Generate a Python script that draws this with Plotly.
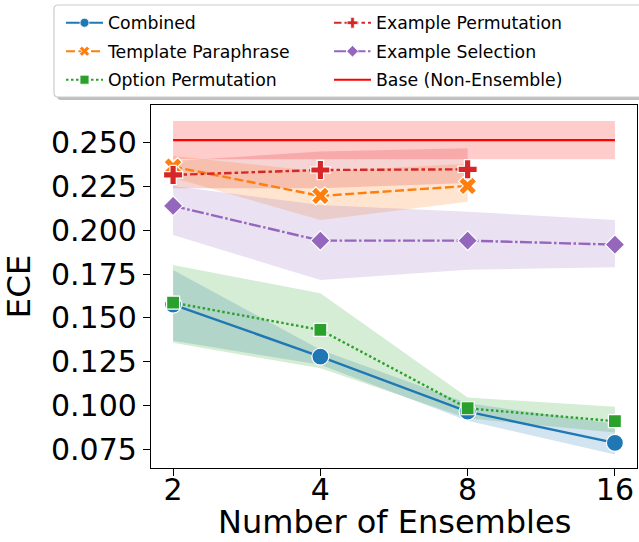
import plotly.graph_objects as go

# Ensemble sizes on the x axis (categorical positions 0..3)
ensemble_sizes = ["2", "4", "8", "16"]

# ECE per method: mean and confidence band
combined_mean = [0.1576, 0.1279, 0.0965, 0.0786]
combined_lo = [0.1370, 0.1232, 0.0912, 0.0720]
combined_hi = [0.1773, 0.1318, 0.1012, 0.0895]

template_mean = [0.2363, 0.2196, 0.2253]
template_lo = [0.2300, 0.2059, 0.2163]
template_hi = [0.2424, 0.2335, 0.2380]

option_mean = [0.1587, 0.1431, 0.0984, 0.0910]
option_lo = [0.1358, 0.1212, 0.0927, 0.0845]
option_hi = [0.1802, 0.1640, 0.1045, 0.0993]

experm_mean = [0.2316, 0.2344, 0.2348]
experm_lo = [0.2240, 0.2240, 0.2270]
experm_hi = [0.2396, 0.2449, 0.2468]

exsel_mean = [0.2139, 0.1941, 0.1941, 0.1918]
exsel_lo = [0.1973, 0.1716, 0.1775, 0.1789]
exsel_hi = [0.2252, 0.2144, 0.2106, 0.2059]

base_mean = 0.2515
base_lo = 0.2406
base_hi = 0.2623

y_ticks = [0.075, 0.100, 0.125, 0.150, 0.175, 0.200, 0.225, 0.250]

FONT = "DejaVu Sans"
W, H = 639, 542
ML, MR, MT, MB = 151, 2, 105, 74
PW, PH = W - ML - MR, H - MT - MB


def rgba(hex_color, a):
    h = hex_color.lstrip("#")
    r, g, b = int(h[0:2], 16), int(h[2:4], 16), int(h[4:6], 16)
    return f"rgba({r},{g},{b},{a})"


series = [
    # name, color, mean, lo, hi, dash, symbol, size, legend
    ("Combined", "#1f77b4", combined_mean, combined_lo, combined_hi, "solid", "circle", 17, "legend"),
    ("Template Paraphrase", "#ff7f0e", template_mean, template_lo, template_hi, "9px,3.5px", "x", 16, "legend"),
    ("Option Permutation", "#2ca02c", option_mean, option_lo, option_hi, "2.5px,2.5px", "square", 13, "legend"),
    ("Example Permutation", "#d62728", experm_mean, experm_lo, experm_hi, "7.5px,3px,3.5px,3px", "cross", 16, "legend2"),
    ("Example Selection", "#9467bd", exsel_mean, exsel_lo, exsel_hi, "12px,2.5px,2.5px,2.5px", "diamond", 15, "legend2"),
]

fig = go.Figure()

# confidence bands
for name, color, mean, lo, hi, dash, sym, size, leg in series:
    xs = list(range(len(mean)))
    fig.add_trace(go.Scatter(
        x=xs + xs[::-1], y=list(hi) + list(lo)[::-1],
        fill="toself", fillcolor=rgba(color, 0.2), mode="lines",
        line=dict(width=0), hoverinfo="skip", showlegend=False,
    ))

base_x = list(range(len(ensemble_sizes)))
fig.add_trace(go.Scatter(
    x=base_x + base_x[::-1], y=[base_hi] * 4 + [base_lo] * 4,
    fill="toself", fillcolor="rgba(255,0,0,0.2)", mode="lines",
    line=dict(width=0), hoverinfo="skip", showlegend=False,
))

# mean lines with markers
for name, color, mean, lo, hi, dash, sym, size, leg in series:
    fig.add_trace(go.Scatter(
        x=list(range(len(mean))), y=mean, mode="lines+markers", name=name,
        line=dict(color=color, width=2.4, dash=dash),
        marker=dict(symbol=sym, size=size, color=color, line=dict(color="white", width=1.2)),
        showlegend=False,
    ))

fig.add_trace(go.Scatter(
    x=[base_x[0], base_x[-1]], y=[base_mean, base_mean], mode="lines",
    line=dict(color="#ff0000", width=2.2), showlegend=False,
))

# legend entries
for i, (name, color, mean, lo, hi, dash, sym, size, leg) in enumerate(series):
    fig.add_trace(go.Scatter(
        x=[None], y=[None], mode="lines+markers", name=name, legend=leg,
        legendgroup=name,
        line=dict(color=color, width=2, dash=dash),
        marker=dict(symbol=sym, size=9, color=color, line=dict(color="white", width=0.8)),
    ))
fig.add_trace(go.Scatter(
    x=[None], y=[None], mode="lines", name="Base (Non-Ensemble)", legend="legend2",
    legendgroup="base", line=dict(color="#ff0000", width=2),
))


def px_x(p):
    return (p - ML) / PW


def px_y(p):
    return (H - MB - p) / PH


def rounded_rect(x0, y0, x1, y1, r):
    pts = [
        f"M{px_x(x0 + r)},{px_y(y0)}",
        f"L{px_x(x1 - r)},{px_y(y0)}",
        f"Q{px_x(x1)},{px_y(y0)} {px_x(x1)},{px_y(y0 + r)}",
        f"L{px_x(x1)},{px_y(y1 - r)}",
        f"Q{px_x(x1)},{px_y(y1)} {px_x(x1 - r)},{px_y(y1)}",
        f"L{px_x(x0 + r)},{px_y(y1)}",
        f"Q{px_x(x0)},{px_y(y1)} {px_x(x0)},{px_y(y1 - r)}",
        f"L{px_x(x0)},{px_y(y0 + r)}",
        f"Q{px_x(x0)},{px_y(y0)} {px_x(x0 + r)},{px_y(y0)}",
        "Z",
    ]
    return " ".join(pts)


# legend frame with drop shadow
fig.add_shape(type="path", xref="paper", yref="paper",
              path=rounded_rect(57, 8, 650, 100, 4),
              fillcolor="rgba(128,128,128,0.5)", line=dict(width=0), layer="above")
fig.add_shape(type="path", xref="paper", yref="paper",
              path=rounded_rect(54, 5, 647, 97, 4),
              fillcolor="white", line=dict(color="#cccccc", width=1.2), layer="above")

# x-axis title, resting on the bottom edge of the figure
fig.add_annotation(
    text="Number of Ensembles", xref="paper", yref="paper", x=0.5, y=0,
    xanchor="center", yanchor="bottom", yshift=-MB, borderpad=0, showarrow=False,
    font=dict(family=FONT, size=32, color="black"),
)

axis_common = dict(
    showline=True, linecolor="black", linewidth=1.3, mirror=True,
    ticks="outside", ticklen=7, tickwidth=1.3, tickcolor="black",
    showgrid=False, zeroline=False, automargin=False,
    tickfont=dict(family=FONT, size=30, color="black"),
)

fig.update_layout(
    width=W, height=H, autosize=False,
    margin=dict(l=ML, r=MR, t=MT, b=MB, pad=0),
    paper_bgcolor="white", plot_bgcolor="white",
    font=dict(family=FONT, color="black"),
    xaxis=dict(
        range=[-0.15, 3.15], tickvals=base_x, ticktext=ensemble_sizes,
        ticklabelstandoff=-12,
        **axis_common,
    ),
    yaxis=dict(
        range=[0.0643, 0.2715], tickvals=y_ticks, tickformat=".3f",
        title=dict(text="ECE", font=dict(family=FONT, size=32.5), standoff=12),
        **axis_common,
    ),
    legend=dict(
        x=px_x(61), y=px_y(5), xanchor="left", yanchor="top",
        bgcolor="rgba(0,0,0,0)", borderwidth=0,
        font=dict(family=FONT, size=17.3, color="black"),
        traceorder="grouped", tracegroupgap=3, itemwidth=37,
    ),
    legend2=dict(
        x=px_x(329), y=px_y(5), xanchor="left", yanchor="top",
        bgcolor="rgba(0,0,0,0)", borderwidth=0,
        font=dict(family=FONT, size=17.3, color="black"),
        traceorder="grouped", tracegroupgap=3, itemwidth=37,
    ),
)

fig.write_html("out.html")
